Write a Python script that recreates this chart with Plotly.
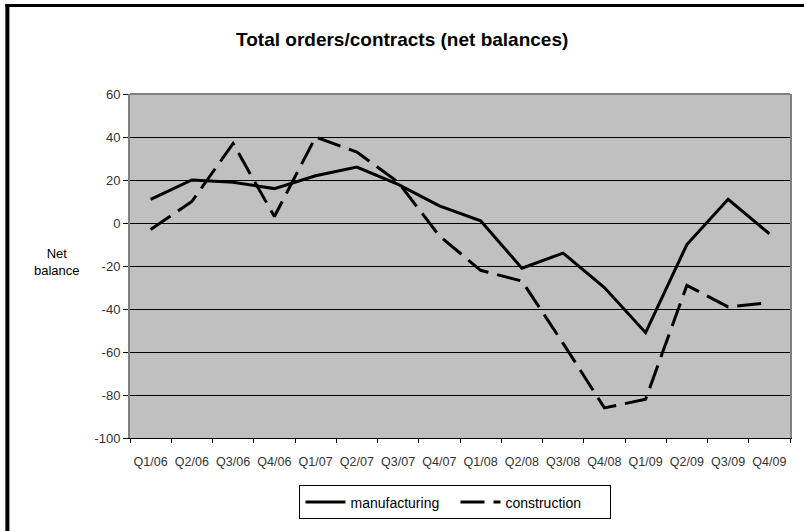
import plotly.graph_objects as go

quarters = ["Q1/06", "Q2/06", "Q3/06", "Q4/06", "Q1/07", "Q2/07", "Q3/07", "Q4/07",
            "Q1/08", "Q2/08", "Q3/08", "Q4/08", "Q1/09", "Q2/09", "Q3/09", "Q4/09"]
manufacturing = [11, 20, 19, 16, 22, 26, 18, 8, 1, -21, -14, -30, -51, -10, 11, -5]
construction = [-3, 10, 37, 3, 40, 33, 19, -6, -22, -27, -56, -86, -82, -29, -39, -37]
y_ticks = [60, 40, 20, 0, -20, -40, -60, -80, -100]

W, H = 804, 531
ML, MR, MT, MB = 130, 12, 94, 89
PW, PH = W - ML - MR, H - MT - MB


def px_x(x):
    return (x - ML) / PW


def px_y(y):
    return (H - MB - y) / PH


fig = go.Figure()
fig.add_trace(go.Scatter(
    x=quarters, y=manufacturing, name="manufacturing", mode="lines",
    line=dict(color="black", width=3),
))
fig.add_trace(go.Scatter(
    x=quarters, y=construction, name="construction", mode="lines",
    line=dict(color="black", width=3, dash="24px,9px"),
))

fig.update_layout(
    width=W, height=H,
    margin=dict(l=ML, r=MR, t=MT, b=MB),
    paper_bgcolor="white",
    plot_bgcolor="#c0c0c0",
    font=dict(family="Liberation Sans, Arial, sans-serif", color="black"),
    title=dict(
        text="<b>Total orders/contracts (net balances)</b>",
        x=px_x(403), xref="paper", xanchor="center",
        y=1 - 39 / H, yref="container", yanchor="middle",
        font=dict(size=19, color="black"),
    ),
    showlegend=True,
    legend=dict(
        orientation="h",
        x=px_x(300), xanchor="left",
        y=px_y(490), yanchor="top",
        bordercolor="black", borderwidth=1,
        bgcolor="white",
        font=dict(size=14, color="black"),
        itemwidth=40,
        entrywidth=100,
        tracegroupgap=0,
    ),
    xaxis=dict(
        type="category",
        categoryorder="array", categoryarray=quarters,
        range=[-0.5, len(quarters) - 0.5],
        showgrid=False, zeroline=False,
        showline=True, linecolor="black", linewidth=1,
        ticks="outside", tickson="boundaries", ticklen=4,
        tickcolor="black", tickwidth=1,
        tickfont=dict(size=12.5, color="#333333"),
        tickangle=0,
        ticklabelstandoff=12,
    ),
    yaxis=dict(
        range=[-100, 60],
        tickmode="array", tickvals=y_ticks,
        ticktext=[str(v) for v in y_ticks],
        showgrid=True, gridcolor="black", gridwidth=1,
        zeroline=False,
        showline=True, linecolor="#808080", linewidth=2, mirror=True,
        ticks="outside", ticklen=5, tickcolor="black", tickwidth=1,
        tickfont=dict(size=13, color="#333333"),
    ),
)

# grey frame along the top of the plotting area
fig.add_shape(type="line", xref="paper", yref="paper",
              x0=0, x1=1, y0=1, y1=1,
              line=dict(color="#808080", width=2), layer="above")

# y-axis title
fig.add_annotation(
    text="Net<br>balance", xref="paper", yref="paper",
    x=px_x(57), y=px_y(264), xanchor="center", yanchor="middle",
    showarrow=False, font=dict(size=13, color="black"), align="center",
)

# heavy black frame on the left and top of the chart
fig.add_shape(type="line", xref="paper", yref="paper",
              x0=px_x(7), x1=px_x(7), y0=px_y(H + 5), y1=px_y(3),
              line=dict(color="black", width=4), layer="above")
fig.add_shape(type="line", xref="paper", yref="paper",
              x0=px_x(5), x1=px_x(W + 5), y0=px_y(4.5), y1=px_y(4.5),
              line=dict(color="black", width=3), layer="above")

fig.write_html("out.html")
